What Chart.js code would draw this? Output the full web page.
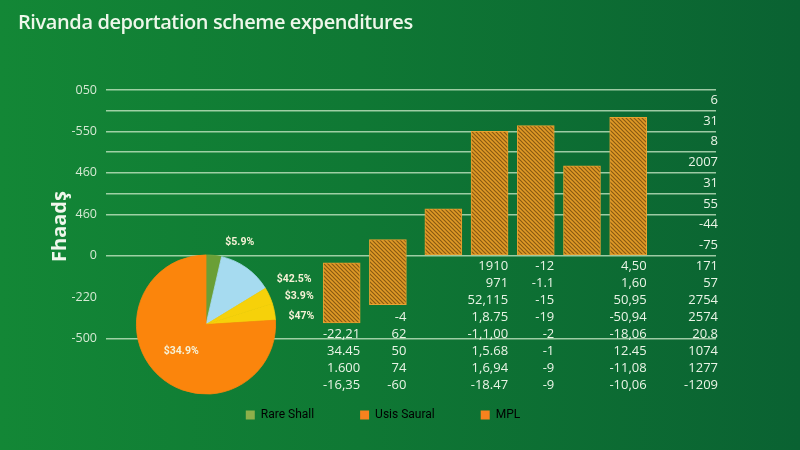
<!DOCTYPE html>
<html>
<head>
<meta charset="utf-8">
<script src="https://cdn.jsdelivr.net/npm/chart.js@4.4.1/dist/chart.umd.min.js"></script>
<style>
  html, body { margin: 0; padding: 0; }
  body { width: 800px; height: 450px; overflow: hidden; }
  #wrap {
    position: relative; width: 800px; height: 450px;
    background: linear-gradient(90deg, #138736 0%, #0f7834 45%, #0a6232 100%);
    font-family: "Open Sans", sans-serif;
  }
  #title {
    position: absolute; left: 18px; top: 8px;
    color: #eef7ea; font-size: 20px; font-weight: 600; letter-spacing: -0.4px;
  }
  #main { position: absolute; left: 0; top: 0; }
  #pie { position: absolute; left: 100px; top: 230px; }
</style>
</head>
<body>
<div id="wrap">
  <canvas id="main" width="800" height="450"></canvas>
  <canvas id="pie" width="220" height="180"></canvas>
  <div id="title">Rivanda deportation scheme expenditures</div>
</div>
<script>
// bars (floating: low -> high)
const barPositions = [1, 2, 3.2, 4.2, 5.2, 6.2, 7.2];
const barLows  = [-162, -118, 0, 0, 0, 0, 0];
const barHighs = [-17, 39, 113, 300, 314, 217, 334];

// y axis
const yTickValues = [400, 300, 200, 100, 0, -100, -200];
const yTickLabels = ['050', '-550', '460', '460', '0', '-220', '-500'];
const yGridValues = [400, 350, 300, 250, 200, 150, 100, 0, -100, -200];
const yHiddenGrid = [-100];

// numbers on the right
const sideLabels = ['6', '31', '8', '2007', '31', '55', '-44', '-75'];

// table under the zero line
const tableCol1 = ['', '', '', '', '-22,21', '34.45', '1.600', '-16,35'];
const tableCol2 = ['', '', '', '-4', '62', '50', '74', '-60'];
const tableCol3 = ['1910', '971', '52,115', '1,8.75', '-1,1,00', '1,5.68', '1,6,94', '-18.47'];
const tableCol4 = ['-12', '-1.1', '-15', '-19', '-2', '-1', '-9', '-9'];
const tableCol5 = ['4,50', '1,60', '50,95', '-50,94', '-18,06', '12.45', '-11,08', '-10,06'];
const tableCol6 = ['171', '57', '2754', '2574', '20.8', '1074', '1277', '-1209'];

// pie
const pieLabels = ['$5.9%', '$42.5%', '$3.9%', '$47%', '$34.9%'];
const pieValues = [3.6, 12.7, 3.8, 3.9, 76];
const pieColors = ['#6a9f36', '#a6dbf0', '#f6d10a', '#f6d10a', '#fb850c'];

// legend
const legendNames = ['Rare Shall', 'Usis Saural', 'MPL'];
const legendColors = ['#8db04a', '#f7821e', '#f7821e'];

const textColor = '#eaf4e6';
const gridColor = 'rgba(214,240,208,0.72)';

function hatch() {
  const c = document.createElement('canvas');
  c.width = 4; c.height = 4;
  const g = c.getContext('2d');
  g.fillStyle = '#e09a26';
  g.fillRect(0, 0, 4, 4);
  g.strokeStyle = '#8a5a12';
  g.lineWidth = 1.2;
  g.beginPath();
  g.moveTo(-1, -1); g.lineTo(5, 5);
  g.moveTo(-1, 3); g.lineTo(1, 5);
  g.moveTo(3, -1); g.lineTo(5, 1);
  g.stroke();
  return g.createPattern(c, 'repeat');
}

const tablePlugin = {
  id: 'tableText',
  afterDraw(chart) {
    const { ctx, chartArea, scales: { x, y } } = chart;
    const half = 37 / 2;
    const colX = [0, 1, 3, 4, 6].map(i => x.getPixelForValue(barPositions[i]) + half);
    colX.push(chartArea.right + 2);
    const cols = [tableCol1, tableCol2, tableCol3, tableCol4, tableCol5, tableCol6];
    const zero = y.getPixelForValue(0);
    ctx.save();
    ctx.font = '13px "Open Sans"';
    ctx.fillStyle = textColor;
    ctx.textAlign = 'right';
    ctx.textBaseline = 'middle';
    cols.forEach((col, c) => {
      col.forEach((t, r) => {
        if (t) ctx.fillText(t, colX[c], zero + 11 + r * 17);
      });
    });
    sideLabels.forEach((t, r) => {
      ctx.fillText(t, chartArea.right + 2, y.getPixelForValue(375 - r * 50));
    });
    ctx.restore();
  }
};

new Chart(document.getElementById('main'), {
  type: 'bar',
  data: {
    datasets: [{
      data: barPositions.map((p, i) => ({ x: p, y: [barLows[i], barHighs[i]] })),
      backgroundColor: hatch(),
      borderColor: '#e8a232',
      borderWidth: 1,
      borderSkipped: false,
      barThickness: 37
    }]
  },
  options: {
    responsive: false,
    animation: false,
    layout: { padding: { left: 50, right: 84, top: 90, bottom: 19 } },
    plugins: {
      tooltip: { enabled: false },
      legend: {
        position: 'bottom',
        onClick: null,
        labels: {
          boxWidth: 9, boxHeight: 9, padding: 46,
          color: '#e2f0dc',
          font: { family: 'Roboto', size: 12 },
          generateLabels: () => legendNames.map((t, i) => ({
            text: t, fillStyle: legendColors[i], strokeStyle: legendColors[i], lineWidth: 0, hidden: false
          }))
        }
      }
    },
    scales: {
      x: { type: 'linear', display: false, offset: false, min: -4.1, max: 9.1 },
      y: {
        min: -259, max: 400,
        afterFit: s => { s.width = 56; },
        afterBuildTicks: s => { s.ticks = yGridValues.map(v => ({ value: v })); },
        border: { display: false },
        grid: {
          drawTicks: false,
          lineWidth: 1.4,
          color: c => yHiddenGrid.includes(c.tick.value) ? 'rgba(0,0,0,0)' : gridColor
        },
        ticks: {
          padding: 9,
          autoSkip: false,
          color: '#d6e9d4',
          font: { family: 'Open Sans', size: 12.5 },
          callback: v => { const i = yTickValues.indexOf(v); return i < 0 ? '' : yTickLabels[i]; }
        },
        title: {
          display: true, text: 'Fhaadş', color: '#f0f7ec',
          padding: 0,
          font: { family: 'Open Sans', size: 20, weight: 'bold', lineHeight: 1 }
        }
      }
    }
  },
  plugins: [tablePlugin]
});

const pieLabelPlugin = {
  id: 'pieLabels',
  afterDatasetsDraw(chart) {
    const { ctx } = chart;
    const arcs = chart.getDatasetMeta(0).data;
    ctx.save();
    ctx.font = 'bold 10.5px Roboto';
    ctx.fillStyle = '#f6f1d6';
    ctx.textBaseline = 'middle';
    arcs.forEach((a, i) => {
      const p = a.getProps(['x', 'y', 'startAngle', 'endAngle', 'outerRadius'], true);
      if (i < arcs.length - 1) {
        const r = p.outerRadius + 12;
        ctx.textAlign = 'left';
        ctx.fillText(pieLabels[i], p.x + Math.cos(p.endAngle) * r + 1, p.y + Math.sin(p.endAngle) * r - 3);
      } else {
        const m = (p.startAngle + p.endAngle) / 2, r = p.outerRadius * 0.52;
        ctx.textAlign = 'center';
        ctx.fillText(pieLabels[i], p.x + Math.cos(m) * r, p.y + Math.sin(m) * r);
      }
    });
    ctx.restore();
  }
};

new Chart(document.getElementById('pie'), {
  type: 'pie',
  data: {
    labels: pieLabels,
    datasets: [{ data: pieValues, backgroundColor: pieColors, borderColor: pieColors, borderWidth: 0.8, hoverOffset: 0 }]
  },
  options: {
    responsive: false,
    animation: false,
    layout: { padding: { left: 36, right: 44, top: 24.5, bottom: 15.5 } },
    plugins: { legend: { display: false }, tooltip: { enabled: false } }
  },
  plugins: [pieLabelPlugin]
});
</script>
</body>
</html>
